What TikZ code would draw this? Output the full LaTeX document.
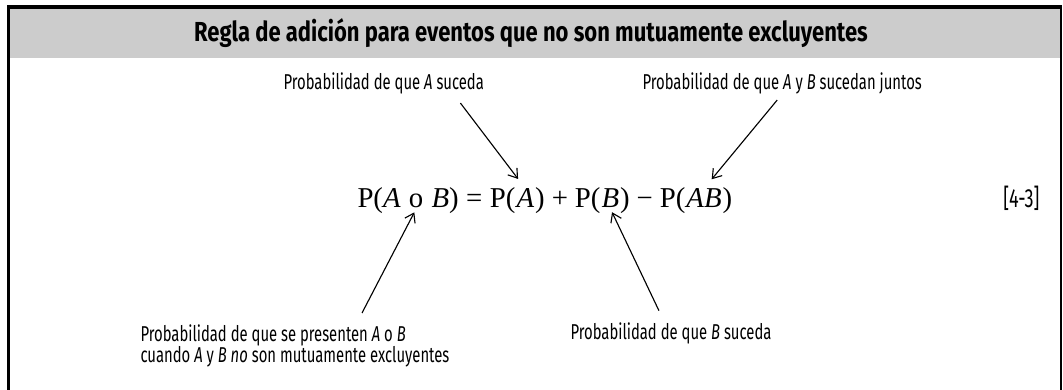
\documentclass[tikz,border=0pt]{standalone}
\usepackage{fontspec}
\setmainfont{Liberation Serif}
\newfontfamily\labfont[FakeStretch=0.69]{Fira Sans}
\newfontfamily\headfont[FakeStretch=0.8]{Fira Sans}
\usetikzlibrary{arrows.meta,positioning}
\definecolor{hdr}{HTML}{CCCCCC}
\tikzset{
  >={Straight Barb[length=3.4pt,width=4.6pt]},
  lab/.style={font=\labfont\fontsize{8.6}{8.4}\selectfont,inner sep=0pt,align=left},
  eq/.style={font=\fontsize{11.5}{13}\selectfont,inner sep=0pt},
  arr/.style={->,line width=0.45pt},
}
\begin{document}
\begin{tikzpicture}[x=0.4pt,y=-0.4pt]
\useasboundingbox (0,0) rectangle (1063,390);
% frame and header band
\fill[hdr] (9,7) rectangle (1061,58);
\draw[line width=1.6pt] (7,7) -- (1062,7);
\draw[line width=1.2pt] (8.5,6.2) -- (8.5,390);
\draw[line width=0.8pt] (1061,6.2) -- (1061,390);
\node[font=\headfont\bfseries\fontsize{11}{13}\selectfont] (title) at (531,33) {Regla de adición para eventos que no son mutuamente excluyentes};
% the rule
\node[eq,anchor=base west] (pa) at (357,208) {P(\textit{A}};
\node[eq,base right=2.9pt of pa] (o) {o};
\node[eq,base right=2.9pt of o] (bc) {\textit{B})};
\node[eq,base right=2.6pt of bc] (is) {=};
\node[eq,base right=2.6pt of is] (p1) {P(};
\node[eq,base right=0pt of p1] (a1) {\textit{A}};
\node[eq,base right=0pt of a1] (c1) {)};
\node[eq,base right=2.4pt of c1] (plus) {+};
\node[eq,base right=2.4pt of plus] (p2) {P(};
\node[eq,base right=0pt of p2] (b2) {\textit{B}};
\node[eq,base right=0pt of b2] (c2) {)};
\node[eq,base right=2.4pt of c2] (minus) {−};
\node[eq,base right=2.4pt of minus] (p3) {P(};
\node[eq,base right=0pt of p3] (ab) {\textit{AB}};
\node[eq,base right=0pt of ab] (c3) {)};
\node[lab,font=\labfont\fontsize{10.5}{12}\selectfont,anchor=base east] (num) at (1040,208) {[4-3]};
% labels
\node[lab,anchor=base west] (la) at (283,90) {Probabilidad de que \textit{A} suceda};
\node[lab,anchor=base west] (lab) at (642,90) {Probabilidad de que \textit{A} y \textit{B} sucedan juntos};
\node[lab,anchor=north west] (lor) at (140,324) {Probabilidad de que se presenten \textit{A} o \textit{B}\\cuando \textit{A} y \textit{B} \textit{no} son mutuamente excluyentes};
\node[lab,anchor=base west] (lb) at (570,340) {Probabilidad de que \textit{B} suceda};
% pointers
\draw[arr,shorten >=4.8pt] ([shift={(-24,8)}]la.south east) -- (a1.north);
\draw[arr,shorten >=4.8pt] ([shift={(-5,5)}]lab.south) -- (ab.north);
\draw[arr,shorten >=1.6pt] ([shift={(222,-11)}]lor.north west) -- (o.south);
\draw[arr,shorten >=1.6pt] ([shift={(-12,-12)}]lb.north) -- (b2.south);
\end{tikzpicture}
\end{document}
